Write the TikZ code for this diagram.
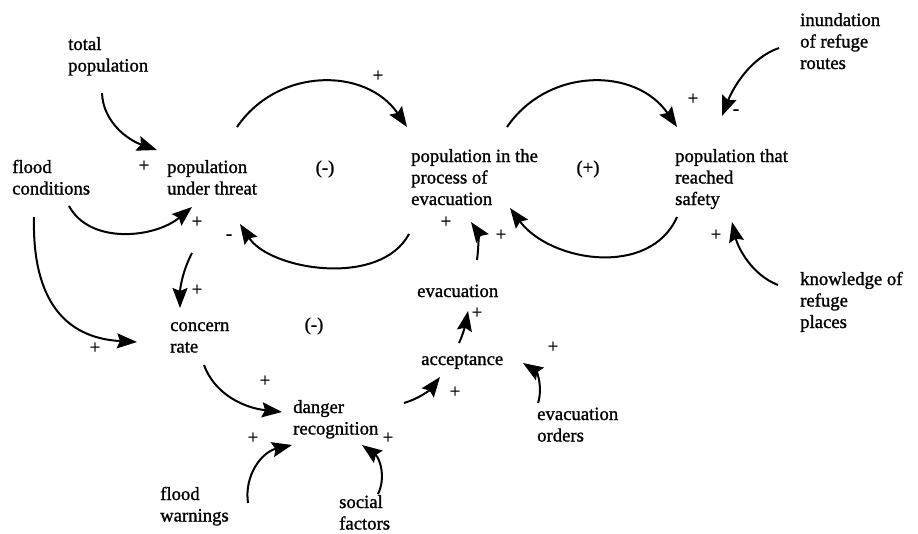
\documentclass[tikz,border=0pt]{standalone}
\usepackage{fontspec}
\setmainfont{Liberation Serif}[UprightFeatures={FakeBold=1.2}]
\usetikzlibrary{arrows.meta}
\newcommand\mlines[1]{\begin{tabular}[t]{@{}l@{}}#1\end{tabular}}
\begin{document}
\begin{tikzpicture}[x=1pt,y=-1pt,
  every node/.style={inner sep=0pt,font=\fontsize{18.7}{21.5}\selectfont},
  var/.style={anchor=base west},
  sgn/.style={anchor=center},
  link/.style={line width=2pt,-{Stealth[length=20pt,width=15pt,inset=3pt]}}]
\useasboundingbox (0,0) rectangle (918,533);
% variables
\node[var] (tp) at (68,50) {\mlines{total\\population}};
\node[var] (fc) at (12,173) {\mlines{flood\\conditions}};
\node[var] (put) at (167,173) {\mlines{population\\under threat}};
\node[var] (ppe) at (411,162) {\mlines{population in the\\process of\\evacuation}};
\node[var] (prs) at (675,162) {\mlines{population that\\reached\\safety}};
\node[var] (inr) at (800,26) {\mlines{inundation\\of refuge\\routes}};
\node[var] (cr) at (170,331) {\mlines{concern\\rate}};
\node[var] (dr) at (293,413) {\mlines{danger\\recognition}};
\node[var] (fw) at (160,500) {\mlines{flood\\warnings}};
\node[var] (sf) at (339,508) {\mlines{social\\factors}};
\node[var] (ev) at (417,297) {evacuation};
\node[var] (ac) at (421,365) {acceptance};
\node[var] (eo) at (537,420) {\mlines{evacuation\\orders}};
\node[var] (kr) at (800,285) {\mlines{knowledge of\\refuge\\places}};
% loop labels
\node[sgn] (l1) at (325,169) {(-)};
\node[sgn] (l2) at (588,169) {(+)};
\node[sgn] (l3) at (314,326) {(-)};
% connector end points
\coordinate (a1s) at (102,93);  \coordinate (a1e) at (157,150);
\coordinate (a2s) at (69,206);  \coordinate (a2e) at (192,207);
\coordinate (a3s) at (237,127); \coordinate (a3e) at (407,127);
\coordinate (a4s) at (409,234); \coordinate (a4e) at (240,224);
\coordinate (a5s) at (507,127); \coordinate (a5e) at (677,127);
\coordinate (a6s) at (677,217); \coordinate (a6e) at (510,208);
\coordinate (a7s) at (779,48);  \coordinate (a7e) at (722,116);
\coordinate (a8s) at (778,285); \coordinate (a8e) at (732,222);
\coordinate (a9s) at (477,260); \coordinate (a9e) at (471,222);
\coordinate (a10s) at (192,253); \coordinate (a10e) at (180,308);
\coordinate (a11s) at (34,217);  \coordinate (a11e) at (137,342);
\coordinate (a12s) at (204,365); \coordinate (a12e) at (282,412);
\coordinate (a13s) at (248,503); \coordinate (a13e) at (292,445);
\coordinate (a14s) at (378,494); \coordinate (a14e) at (362,445);
\coordinate (a15s) at (404,403); \coordinate (a15e) at (440,377);
\coordinate (a16s) at (459,343); \coordinate (a16e) at (468,311);
\coordinate (a17s) at (538,403); \coordinate (a17e) at (523,363);
% connectors
\draw[link] (a1s) .. controls (103,122) and (128,140) .. (a1e);
\draw[link] (a2s) .. controls (90,245) and (155,238) .. (a2e);
\draw[link] (a3s) .. controls (278,67) and (366,67) .. (a3e);
\draw[link] (a4s) .. controls (380,288) and (270,270) .. (a4e);
\draw[link] (a5s) .. controls (548,67) and (636,67) .. (a5e);
\draw[link] (a6s) .. controls (650,278) and (550,262) .. (a6e);
\draw[link] (a7s) .. controls (750,58) and (733,88) .. (a7e);
\draw[link] (a8s) .. controls (752,275) and (738,248) .. (a8e);
\draw[link] (a9s) .. controls (479,245) and (478,232) .. (a9e);
\draw[link] (a10s) .. controls (183,270) and (180,288) .. (a10e);
\draw[link] (a11s) .. controls (32,300) and (65,338) .. (a11e);
\draw[link] (a12s) .. controls (215,395) and (245,408) .. (a12e);
\draw[link] (a13s) .. controls (244,475) and (262,452) .. (a13e);
\draw[link] (a14s) .. controls (386,478) and (380,458) .. (a14e);
\draw[link] (a15s) .. controls (418,399) and (430,390) .. (a15e);
\draw[link] (a16s) .. controls (463,335) and (466,322) .. (a16e);
\draw[link] (a17s) .. controls (543,388) and (537,372) .. (a17e);
% polarity signs
\node[sgn] (s1) at (144,166) {+};
\node[sgn] (s2) at (378,76) {+};
\node[sgn] (s3) at (197,222) {+};
\node[sgn] (s4) at (229,237) {-};
\node[sgn] (s5) at (446,222) {+};
\node[sgn] (s6) at (501,235) {+};
\node[sgn] (s7) at (693,99) {+};
\node[sgn] (s8) at (736,112) {-};
\node[sgn] (s9) at (716,235) {+};
\node[sgn] (s10) at (197,290) {+};
\node[sgn] (s11) at (95,348) {+};
\node[sgn] (s12) at (265,381) {+};
\node[sgn] (s13) at (253,438) {+};
\node[sgn] (s14) at (388,438) {+};
\node[sgn] (s15) at (455,392) {+};
\node[sgn] (s16) at (477,313) {+};
\node[sgn] (s17) at (553,347) {+};
\end{tikzpicture}
\end{document}
